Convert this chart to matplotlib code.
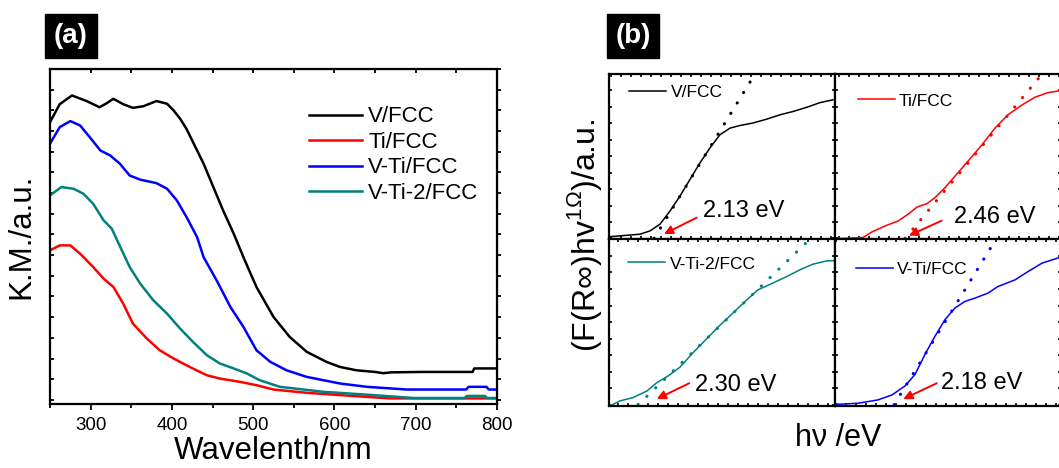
import matplotlib.pyplot as plt
from matplotlib.patches import Rectangle
from matplotlib.ticker import MultipleLocator

plt.rcParams['font.family'] = ['Liberation Sans', 'DejaVu Sans']
plt.rcParams['mathtext.fontset'] = 'custom'
plt.rcParams['mathtext.rm'] = 'Liberation Sans'

# ---- (a) Kubelka-Munk spectra ----
wl_v = [250, 262, 277, 295, 311, 320, 328, 340, 352, 365, 381, 394, 402, 410, 418, 426,
        439, 451, 463, 476, 488, 504, 525, 545, 566, 590, 607, 627, 650, 660, 670, 705,
        770, 772, 800]
km_v = [13.43, 14.3, 14.72, 14.45, 14.15, 14.35, 14.56, 14.3, 14.12, 14.2, 14.45, 14.32,
        14.0, 13.6, 13.1, 12.46, 11.42, 10.29, 9.16, 8.04, 6.9, 5.46, 4.01, 3.04, 2.32,
        1.84, 1.59, 1.43, 1.35, 1.29, 1.33, 1.35, 1.35, 1.52, 1.52]

wl_ti = [250, 262, 275, 287, 303, 316, 328, 340, 352, 369, 385, 402, 422, 443, 459, 484,
         504, 525, 566, 607, 668, 800]
km_ti = [7.23, 7.47, 7.47, 7.07, 6.43, 5.86, 5.46, 4.66, 3.69, 2.97, 2.40, 2.0, 1.59, 1.19,
         1.03, 0.87, 0.71, 0.5, 0.34, 0.23, 0.07, 0.07]

wl_vti = [250, 262, 275, 287, 299, 312, 324, 336, 348, 361, 381, 394, 406, 418, 431, 439,
          455, 472, 488, 504, 521, 541, 566, 607, 640, 689, 762, 765, 787, 790, 800]
km_vti = [12.39, 13.19, 13.48, 13.27, 12.7, 12.06, 11.82, 11.42, 10.85, 10.65, 10.48,
          10.21, 9.65, 8.84, 7.87, 6.9, 5.78, 4.49, 3.53, 2.40, 1.84, 1.43, 1.11, 0.79,
          0.63, 0.5, 0.5, 0.63, 0.63, 0.5, 0.5]

wl_vti2 = [250, 264, 279, 291, 303, 316, 326, 336, 348, 361, 377, 394, 410, 426, 443, 459,
           476, 492, 508, 533, 586, 648, 697, 760, 763, 785, 788, 800]
km_vti2 = [9.89, 10.29, 10.21, 9.97, 9.49, 8.68, 8.28, 7.43, 6.43, 5.62, 4.82, 4.17, 3.45,
           2.80, 2.16, 1.76, 1.52, 1.28, 0.95, 0.63, 0.39, 0.23, 0.09, 0.09, 0.19, 0.19,
           0.09, 0.09]

# ---- (b) Tauc plots: photon energy (eV) vs (F(R)hv)^(1/2) ----
e_v = [1.68, 1.71, 1.99, 2.09, 2.19, 2.29, 2.39, 2.49, 2.59, 2.69, 2.79, 2.89, 2.99, 3.12,
       3.26, 3.39, 3.52, 3.66, 3.79, 3.92]
t_v = [0.01, 0.012, 0.026, 0.046, 0.087, 0.167, 0.258, 0.359, 0.460, 0.551, 0.631, 0.671,
       0.687, 0.702, 0.726, 0.752, 0.772, 0.798, 0.826, 0.843]
gap_v, slope_v, xlim_v = 2.13, 0.99, (1.68, 3.94)

e_ti = [1.76, 1.83, 2.04, 2.13, 2.26, 2.39, 2.49, 2.58, 2.68, 2.76, 2.86, 2.96, 3.09, 3.23,
        3.36, 3.49, 3.63, 3.76, 3.89, 4.00]
t_ti = [0.0, 0.0, 0.006, 0.04, 0.076, 0.106, 0.147, 0.191, 0.212, 0.248, 0.309, 0.379,
        0.470, 0.570, 0.671, 0.752, 0.812, 0.859, 0.887, 0.897]
gap_ti, slope_ti, xlim_ti = 2.46, 0.729, (1.76, 4.02)

e_vti2 = [2.01, 2.04, 2.12, 2.25, 2.39, 2.49, 2.60, 2.72, 2.85, 2.99, 3.12, 3.25, 3.39,
          3.50, 3.65, 3.79, 3.92, 4.05, 4.19, 4.27]
t_vti2 = [0.0, 0.0, 0.024, 0.044, 0.084, 0.135, 0.174, 0.228, 0.315, 0.401, 0.481, 0.555,
          0.635, 0.695, 0.736, 0.776, 0.816, 0.850, 0.870, 0.871]
gap_vti2, slope_vti2, xlim_vti2 = 2.30, 0.582, (2.01, 4.27)

e_vti = [1.59, 1.64, 1.82, 2.02, 2.16, 2.29, 2.39, 2.49, 2.59, 2.69, 2.79, 2.89, 2.99,
         3.12, 3.22, 3.39, 3.52, 3.66, 3.83]
t_vti = [0.005, 0.004, 0.01, 0.03, 0.06, 0.114, 0.184, 0.305, 0.415, 0.515, 0.585, 0.625,
         0.645, 0.675, 0.715, 0.755, 0.805, 0.856, 0.889]
gap_vti, slope_vti, xlim_vti = 2.18, 0.981, (1.59, 3.85)

C_V, C_TI, C_VTI, C_VTI2 = 'black', '#ff0000', '#0000ff', '#008080'

W, H = 1059, 468
fig = plt.figure(figsize=(W / 100, H / 100), dpi=100)


def fig_box(x0, y0, x1, y1):
    return [x0 / W, 1 - y1 / H, (x1 - x0) / W, (y1 - y0) / H]


# ---------------- panel (a) ----------------
ax = fig.add_axes(fig_box(50, 69, 497, 404))
ax.plot(wl_v, km_v, color=C_V, lw=1.8, label='V/FCC')
ax.plot(wl_ti, km_ti, color=C_TI, lw=1.8, label='Ti/FCC')
ax.plot(wl_vti, km_vti, color=C_VTI, lw=1.8, label='V-Ti/FCC')
ax.plot(wl_vti2, km_vti2, color=C_VTI2, lw=1.8, label='V-Ti-2/FCC')
ax.set_xlim(250, 800)
ax.set_ylim(-0.2, 16)
ax.xaxis.set_major_locator(MultipleLocator(100))
ax.xaxis.set_minor_locator(MultipleLocator(50))
ax.yaxis.set_major_locator(MultipleLocator(1))
ax.tick_params(axis='x', which='both', direction='out', labelsize=13.5, width=1.3, pad=5)
ax.tick_params(axis='x', which='major', length=4)
ax.tick_params(axis='x', which='minor', length=3)
ax.tick_params(axis='y', direction='in', length=3, width=1.3, labelleft=False)
for s in ax.spines.values():
    s.set_linewidth(1.6)
top = ax.secondary_xaxis('top')
top.xaxis.set_major_locator(MultipleLocator(50))
top.tick_params(direction='in', length=3, width=1.3, labeltop=False)
right = ax.secondary_yaxis('right')
right.yaxis.set_major_locator(MultipleLocator(1))
right.tick_params(direction='out', length=3, width=1.3, labelright=False)
ax.set_xlabel('Wavelenth/nm', fontsize=22.5, labelpad=2)
ax.set_ylabel('K.M./a.u.', fontsize=22.5, labelpad=10)
ax.legend(loc='center left', bbox_to_anchor=(0.579, 0.743), frameon=False, fontsize=16,
          handlelength=2.4, handletextpad=0.27, labelspacing=0.2, borderpad=0,
          borderaxespad=0)

# ---------------- panel (b) ----------------
panels = [
    (fig_box(609, 74, 835, 239.3), e_v, t_v, gap_v, slope_v, xlim_v, C_V, 'V/FCC',
     (0.090, 0.889), (0.243, 0.032), (0.388, 0.131), (0.416, 0.173)),
    (fig_box(835, 74, 1061, 239.3), e_ti, t_ti, gap_ti, slope_ti, xlim_ti, C_TI, 'Ti/FCC',
     (0.100, 0.837), (0.327, 0.022), (0.472, 0.113), (0.527, 0.137)),
    (fig_box(609, 239.3, 835, 405.7), e_vti2, t_vti2, gap_vti2, slope_vti2, xlim_vti2,
     C_VTI2, 'V-Ti-2/FCC', (0.085, 0.852), (0.211, 0.040), (0.355, 0.135), (0.380, 0.124)),
    (fig_box(835, 239.3, 1061, 405.7), e_vti, t_vti, gap_vti, slope_vti, xlim_vti, C_VTI,
     'V-Ti/FCC', (0.092, 0.820), (0.302, 0.040), (0.450, 0.135), (0.469, 0.136)),
]

for rect, e, t, gap, slope, xlim, col, name, leg_at, tip, tail, txt_at in panels:
    bx = fig.add_axes(rect)
    bx.plot(e, t, color=col, lw=1.1, label=name)
    # linear fit of the absorption edge, extrapolated to the baseline
    bx.plot([gap, gap + 1.0 / slope], [0, 1.0], color=col, lw=2.2,
            linestyle=(0, (0.1, 3.9)), dash_capstyle='round')
    bx.set_xlim(*xlim)
    bx.set_ylim(-0.005, 1.0)
    bx.xaxis.set_major_locator(MultipleLocator(0.1))
    bx.yaxis.set_major_locator(MultipleLocator(0.1))
    bx.tick_params(which='both', direction='in', length=2.5, width=1.2,
                   top=True, right=True, labelbottom=False, labelleft=False)
    for s in bx.spines.values():
        s.set_linewidth(1.6)
    bx.legend(loc='center left', bbox_to_anchor=leg_at, frameon=False, fontsize=12.5,
              handlelength=2.13, handletextpad=0.25, borderpad=0, borderaxespad=0)
    bx.annotate('', xy=tip, xytext=tail, xycoords='axes fraction',
                arrowprops=dict(arrowstyle='-|>', color='red', lw=1.4,
                                mutation_scale=13, shrinkA=0, shrinkB=0))
    bx.text(txt_at[0], txt_at[1], f'{gap:.2f} eV', transform=bx.transAxes,
            fontsize=17, ha='left', va='center')

fig.text(838 / W, 1 - 438 / H, 'h\u03bd /eV', fontsize=22, ha='center', va='center')
fig.text(585 / W, 1 - 235 / H, '(F(R\u221e)hv$^{\\mathregular{1\u03a9}}$)/a.u.',
         fontsize=23, rotation=90, ha='center', va='center')

# panel tags
for label, x0 in (('(a)', 45), ('(b)', 607)):
    fig.patches.append(Rectangle((x0 / W, 1 - 58 / H), 52 / W, 44 / H,
                                 transform=fig.transFigure, color='black'))
    fig.text((x0 + 26) / W, 1 - 36 / H, label, color='white', fontsize=20,
             fontweight='bold', ha='center', va='center')

fig.savefig('out.png', dpi=100)
